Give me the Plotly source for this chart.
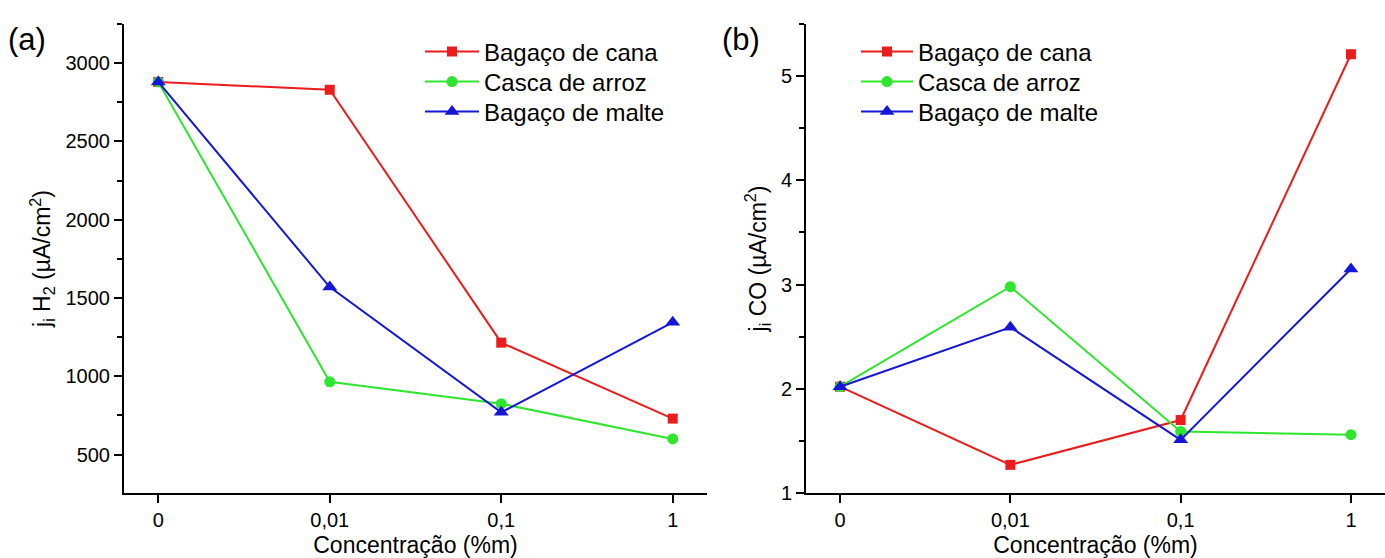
import plotly.graph_objects as go

categories = ["0", "0,01", "0,1", "1"]
series_names = ["Bagaço de cana", "Casca de arroz", "Bagaço de malte"]

h2_cana = [2880, 2830, 1215, 730]
h2_arroz = [2880, 965, 825, 600]
h2_malte = [2880, 1570, 770, 1345]

co_cana = [2.02, 1.27, 1.70, 5.21]
co_arroz = [2.02, 2.98, 1.59, 1.56]
co_malte = [2.02, 2.59, 1.51, 3.15]

colors = ["#ec1c1c", "#2ee62e", "#1616d8"]
symbols = ["square", "circle", "triangle-up"]
msizes = [10, 11, 13]

W, H = 1385, 558
ML, MR, MT, MB = 0, 0, 24, 65
PH = H - MT - MB
xpos = list(range(len(categories)))
font = "Liberation Sans, Arial, sans-serif"

fig = go.Figure()
legend_layout = {}
row_px = [52, 82, 112]
panels = [
    ([h2_cana, h2_arroz, h2_malte], "x", "y", 420, 54, 1),
    ([co_cana, co_arroz, co_malte], "x2", "y2", 856, 52, 4),
]
for data, xa, ya, lx, iw, lstart in panels:
    for i, (name, ys) in enumerate(zip(series_names, data)):
        lid = "legend" if lstart + i == 1 else f"legend{lstart + i}"
        fig.add_trace(go.Scatter(x=xpos, y=ys, name=name, mode="lines+markers",
                                 line=dict(color=colors[i], width=2),
                                 marker=dict(color=colors[i], symbol=symbols[i], size=msizes[i]),
                                 xaxis=xa, yaxis=ya, legend=lid, showlegend=True))
        legend_layout[lid] = dict(x=lx / W, y=1 - (row_px[i] - MT) / PH, xanchor="left", yanchor="middle",
                                  font=dict(size=24, color="black", family=font),
                                  bgcolor="rgba(0,0,0,0)", itemwidth=iw, visible=True)

axis_common = dict(showline=True, linecolor="black", linewidth=2, ticks="outside",
                   ticklen=8, tickwidth=2, tickcolor="black", showgrid=False, zeroline=False,
                   automargin=False,
                   title_font=dict(size=23, color="black", family=font), mirror=False)

xcommon = dict(axis_common, tickmode="array", tickvals=xpos, ticktext=categories,
               range=[-0.2, 3.2], title_text="Concentração (%m)", title_standoff=15)

fig.update_layout(
    width=W, height=H, margin=dict(l=ML, r=MR, t=MT, b=MB, autoexpand=False),
    paper_bgcolor="white", plot_bgcolor="white", showlegend=True,
    font=dict(family=font, color="black"),
    xaxis=dict(xcommon, domain=[124 / W, 707 / W], anchor="y"),
    yaxis=dict(axis_common, domain=[0, 1], anchor="x", range=[255, 3250], tick0=0, dtick=500,
               minor=dict(dtick=250, ticklen=5, tickwidth=2, tickcolor="black", ticks="outside"),
               title_text="j<sub>i</sub> H<sub>2</sub> (µA/cm<sup>2</sup>)", title_standoff=8),
    xaxis2=dict(xcommon, domain=[806 / W, 1.0], anchor="y2"),
    yaxis2=dict(axis_common, domain=[0, 1], anchor="x2", range=[1, 5.5], tick0=0, dtick=1,
                minor=dict(dtick=0.5, ticklen=5, tickwidth=2, tickcolor="black", ticks="outside"),
                title_text="j<sub>i</sub> CO (µA/cm<sup>2</sup>)", title_standoff=8),
    annotations=[
        dict(text="(a)", x=6 / W, y=1 - (40 - MT) / PH, xref="paper", yref="paper",
             xanchor="left", yanchor="middle", showarrow=False, font=dict(size=31, color="black", family=font)),
        dict(text="(b)", x=720 / W, y=1 - (40 - MT) / PH, xref="paper", yref="paper",
             xanchor="left", yanchor="middle", showarrow=False, font=dict(size=31, color="black", family=font)),
    ],
    **legend_layout,
)
fig.update_xaxes(tickfont=dict(size=20, color="black", family=font))
fig.update_yaxes(tickfont=dict(size=20, color="black", family=font))

fig.write_html("out.html")
